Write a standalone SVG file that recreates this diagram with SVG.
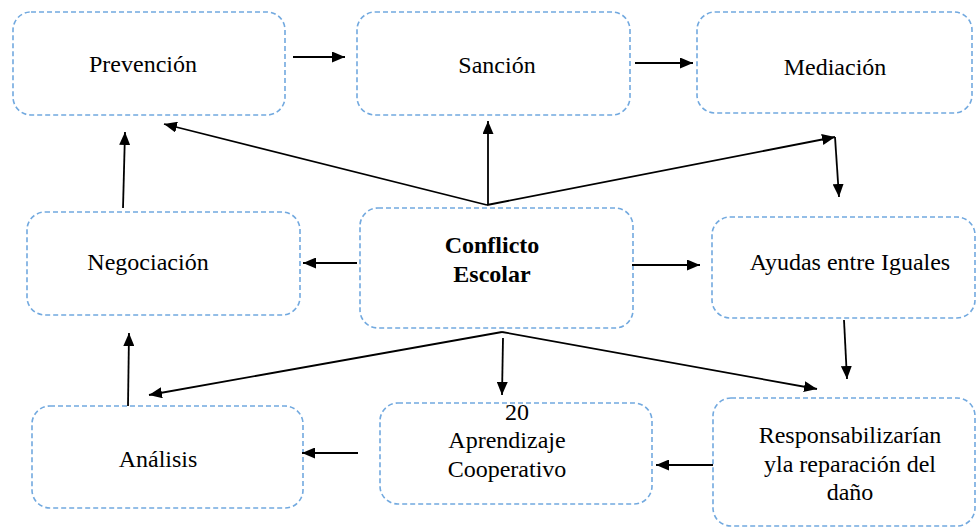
<svg xmlns="http://www.w3.org/2000/svg" width="977" height="528" viewBox="0 0 977 528">
<style>
.box{fill:#fff;stroke:#72a9df;stroke-width:1.6;stroke-dasharray:5 3}
.c{fill:none;stroke:#000;stroke-width:1.8}
</style>
<defs>
<marker id="ah" markerUnits="userSpaceOnUse" markerWidth="13" markerHeight="11" refX="13" refY="5.5" orient="auto">
<path d="M0,0 L13,5.5 L0,11 z" fill="#000"/>
</marker>
</defs>
<rect width="977" height="528" fill="#fff"/>
<g font-family="Liberation Serif, serif" font-size="24" text-anchor="middle" fill="#000">
<g id="prevencion"><rect class="box" x="13" y="12" width="272" height="103" rx="18"/><text x="143" y="72">Prevención</text></g>
<g id="sancion"><rect class="box" x="357" y="12" width="273" height="103" rx="18"/><text x="497" y="73">Sanción</text></g>
<g id="mediacion"><rect class="box" x="697" y="12" width="275" height="101" rx="18"/><text x="835" y="75">Mediación</text></g>
<g id="negociacion"><rect class="box" x="27" y="212" width="273" height="103" rx="18"/><text x="148" y="270">Negociación</text></g>
<g id="conflicto"><rect class="box" x="360" y="208" width="273" height="120" rx="18"/><text font-weight="bold" x="492" y="253">Conflicto</text><text font-weight="bold" x="492" y="282">Escolar</text></g>
<g id="ayudas"><rect class="box" x="712" y="217" width="263" height="101" rx="18"/><text x="850" y="270">Ayudas entre Iguales</text></g>
<g id="analisis"><rect class="box" x="32" y="406" width="271" height="102" rx="18"/><text x="158" y="467">Análisis</text></g>
<g id="aprendizaje"><rect class="box" x="380" y="403" width="272" height="101" rx="18"/><text x="517" y="420">20</text><text x="507" y="448">Aprendizaje</text><text x="507" y="477">Cooperativo</text></g>
<g id="responsabilizar"><rect class="box" x="713" y="398" width="262" height="128" rx="18"/><text x="850" y="443">Responsabilizarían</text><text x="850" y="472">yla reparación del</text><text x="850" y="500">daño</text></g>
</g>
<g id="connectors">
<path class="c" d="M293,57 L345,57" marker-end="url(#ah)"/>
<path class="c" d="M635,63 L693,63" marker-end="url(#ah)"/>
<path class="c" d="M487,205 L164,124" marker-end="url(#ah)"/>
<path class="c" d="M488,205 L488,121" marker-end="url(#ah)"/>
<path class="c" d="M487,205 L835,137" marker-end="url(#ah)"/>
<path class="c" d="M835,137 L839,197" marker-end="url(#ah)"/>
<path class="c" d="M632,265 L700,265" marker-end="url(#ah)"/>
<path class="c" d="M357,263 L303,263" marker-end="url(#ah)"/>
<path class="c" d="M123,208 L125,132" marker-end="url(#ah)"/>
<path class="c" d="M128,406 L129,333" marker-end="url(#ah)"/>
<path class="c" d="M502,332 L149,395" marker-end="url(#ah)"/>
<path class="c" d="M503,338 L502,395" marker-end="url(#ah)"/>
<path class="c" d="M502,332 L817,389" marker-end="url(#ah)"/>
<path class="c" d="M844,320 L847,379" marker-end="url(#ah)"/>
<path class="c" d="M713,465 L656,465" marker-end="url(#ah)"/>
<path class="c" d="M358,453 L302,453" marker-end="url(#ah)"/>
</g>
</svg>
